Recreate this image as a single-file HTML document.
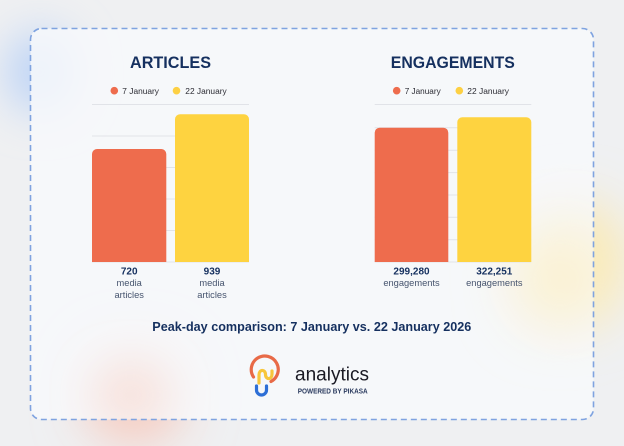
<!DOCTYPE html>
<html>
<head>
<meta charset="utf-8">
<style>
  html, body { margin:0; padding:0; width:624px; height:446px; overflow:hidden; background:#eff0f2; }
  svg { display:block; }
  text { font-family: "Liberation Sans", "DejaVu Sans", sans-serif; }
</style>
</head>
<body>
<svg width="624" height="446" viewBox="0 0 624 446" xmlns="http://www.w3.org/2000/svg">
  <defs>
    <filter id="b1" x="-100%" y="-100%" width="300%" height="300%"><feGaussianBlur stdDeviation="22"/></filter>
    <filter id="b2" x="-100%" y="-100%" width="300%" height="300%"><feGaussianBlur stdDeviation="28"/></filter>
  </defs>
  <rect x="0" y="0" width="624" height="446" fill="#eff0f2"/>
  <!-- blurred blobs -->
  <ellipse cx="40" cy="72" rx="34" ry="40" fill="#bcd3f6" filter="url(#b1)"/>
  <ellipse cx="135" cy="395" rx="45" ry="45" fill="#f6c3b4" filter="url(#b2)"/>
  <ellipse cx="575" cy="260" rx="45" ry="55" fill="#fbe7a6" filter="url(#b2)"/>

  <!-- card -->
  <rect x="30.5" y="28.5" width="563" height="391" rx="11" ry="11" fill="#f8f9fb" fill-opacity="0.82"/>
  <ellipse cx="560" cy="280" rx="50" ry="50" fill="#fcefc6" fill-opacity="0.7" filter="url(#b2)"/>
  <ellipse cx="130" cy="395" rx="35" ry="28" fill="#f9d6cb" fill-opacity="0.6" filter="url(#b1)"/>
  <rect x="30.5" y="28.5" width="563" height="391" rx="11" ry="11" fill="none" stroke="#7fa3e0" stroke-width="1.6" stroke-dasharray="6 4"/>

  <!-- LEFT CHART -->
  <text x="170.5" y="68" text-anchor="middle" font-size="17" font-weight="bold" fill="#15305f" textLength="81" lengthAdjust="spacingAndGlyphs">ARTICLES</text>
  <circle cx="114.3" cy="90.7" r="3.8" fill="#ee6c4d"/>
  <text x="122.3" y="93.8" font-size="8.6" fill="#2b2b33" textLength="36.7" lengthAdjust="spacingAndGlyphs">7 January</text>
  <circle cx="176.5" cy="90.7" r="3.8" fill="#fdd043"/>
  <text x="185.3" y="93.8" font-size="8.6" fill="#2b2b33" textLength="41.4" lengthAdjust="spacingAndGlyphs">22 January</text>

  <g stroke="#e1e3e8" stroke-width="1">
    <line x1="92" y1="104.5" x2="249" y2="104.5"/>
    <line x1="92" y1="136" x2="249" y2="136"/>
    <line x1="92" y1="167.5" x2="249" y2="167.5"/>
    <line x1="92" y1="199" x2="249" y2="199"/>
    <line x1="92" y1="230.5" x2="249" y2="230.5"/>
    <line x1="92" y1="262" x2="249" y2="262"/>
  </g>
  <path d="M92 262 V154 a5 5 0 0 1 5 -5 H161.3 a5 5 0 0 1 5 5 V262 Z" fill="#ee6c4d"/>
  <path d="M175 262 V119.3 a5 5 0 0 1 5 -5 H244 a5 5 0 0 1 5 5 V262 Z" fill="#fed340"/>

  <text x="129.2" y="274.3" text-anchor="middle" font-size="10" font-weight="bold" fill="#15305f">720</text>
  <text x="129.2" y="285.8" text-anchor="middle" font-size="9.3" fill="#46546e">media</text>
  <text x="129.2" y="298.2" text-anchor="middle" font-size="9.3" fill="#46546e">articles</text>
  <text x="212" y="274.3" text-anchor="middle" font-size="10" font-weight="bold" fill="#15305f">939</text>
  <text x="212" y="285.8" text-anchor="middle" font-size="9.3" fill="#46546e">media</text>
  <text x="212" y="298.2" text-anchor="middle" font-size="9.3" fill="#46546e">articles</text>

  <!-- RIGHT CHART -->
  <text x="452.8" y="68" text-anchor="middle" font-size="17" font-weight="bold" fill="#15305f" textLength="124" lengthAdjust="spacingAndGlyphs">ENGAGEMENTS</text>
  <circle cx="396.7" cy="90.7" r="3.8" fill="#ee6c4d"/>
  <text x="404.7" y="93.8" font-size="8.6" fill="#2b2b33" textLength="36" lengthAdjust="spacingAndGlyphs">7 January</text>
  <circle cx="459.3" cy="90.7" r="3.8" fill="#fdd043"/>
  <text x="467.3" y="93.8" font-size="8.6" fill="#2b2b33" textLength="41.7" lengthAdjust="spacingAndGlyphs">22 January</text>

  <g stroke="#e1e3e8" stroke-width="1">
    <line x1="374.7" y1="104.5" x2="531.3" y2="104.5"/>
    <line x1="374.7" y1="127.7" x2="531.3" y2="127.7"/>
    <line x1="374.7" y1="150.2" x2="531.3" y2="150.2"/>
    <line x1="374.7" y1="172.6" x2="531.3" y2="172.6"/>
    <line x1="374.7" y1="195" x2="531.3" y2="195"/>
    <line x1="374.7" y1="217.3" x2="531.3" y2="217.3"/>
    <line x1="374.7" y1="239.7" x2="531.3" y2="239.7"/>
    <line x1="374.7" y1="262" x2="531.3" y2="262"/>
  </g>
  <path d="M374.7 262 V132.7 a5 5 0 0 1 5 -5 H443.3 a5 5 0 0 1 5 5 V262 Z" fill="#ee6c4d"/>
  <path d="M457.3 262 V122.3 a5 5 0 0 1 5 -5 H526.3 a5 5 0 0 1 5 5 V262 Z" fill="#fed340"/>

  <text x="411.5" y="274.3" text-anchor="middle" font-size="10" font-weight="bold" fill="#15305f">299,280</text>
  <text x="411.5" y="285.8" text-anchor="middle" font-size="9.3" fill="#46546e">engagements</text>
  <text x="494.3" y="274.3" text-anchor="middle" font-size="10" font-weight="bold" fill="#15305f">322,251</text>
  <text x="494.3" y="285.8" text-anchor="middle" font-size="9.3" fill="#46546e">engagements</text>

  <!-- caption -->
  <text x="311.8" y="330.8" text-anchor="middle" font-size="13" font-weight="bold" fill="#15305f" textLength="319" lengthAdjust="spacingAndGlyphs">Peak-day comparison: 7 January vs. 22 January 2026</text>

  <!-- logo -->
  <path d="M253.5 377 A13.5 13.5 0 1 1 271 381.5" fill="none" stroke="#e86a47" stroke-width="3.2" stroke-linecap="round"/>
  <path d="M256.5 386 V390 a5 5 0 0 0 10 0 V386" fill="none" stroke="#2d6fd6" stroke-width="3.2" stroke-linecap="round"/>
  <path d="M259 383 V375 C259 369 265.5 369 265.5 374.5 C265.5 380 272 380 272 374 V371" fill="none" stroke="#f7c63b" stroke-width="3.2" stroke-linecap="round"/>
  <text x="295" y="380.5" font-size="19" fill="#1a1a24" textLength="74" lengthAdjust="spacingAndGlyphs">analytics</text>
  <text x="297.7" y="393.3" font-size="7" font-weight="bold" fill="#2a3a5e" textLength="70" lengthAdjust="spacingAndGlyphs">POWERED BY PIKASA</text>
</svg>
</body>
</html>
